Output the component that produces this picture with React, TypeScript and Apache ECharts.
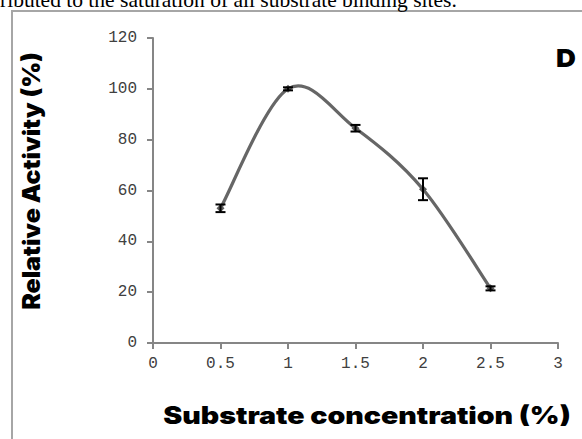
import React, { useEffect, useRef } from "react";
import * as echarts from "echarts";

const concentrations = [0.5, 1, 1.5, 2, 2.5];
const activity = [53, 100, 84.5, 60.5, 21.5];
const errors = [1.5, 0.6, 1.3, 4.3, 0.8];
const xTicks = [0, 0.5, 1, 1.5, 2, 2.5, 3];
const yTicks = [0, 20, 40, 60, 80, 100, 120];

export default function App() {
  const ref = useRef<HTMLDivElement>(null);
  useEffect(() => {
    document.body.style.margin = "0";
    const chart = echarts.init(ref.current!, undefined, { renderer: "svg" });
    const lineData = concentrations.map((c, i) => [c, activity[i]]);
    const segData = lineData.slice(0, -1);
    const errData = concentrations.map((c, i) => [c, activity[i] - errors[i], activity[i] + errors[i]]);
    const tickFont = { fontFamily: "Liberation Mono", fontSize: 16, color: "#404040" };
    const n = lineData.length;
    chart.setOption({
      animation: false,
      backgroundColor: "#fff",
      grid: { left: 153, right: 24, top: 38, bottom: 96 },
      xAxis: {
        type: "value",
        min: xTicks[0],
        max: xTicks[xTicks.length - 1],
        interval: 0.5,
        axisLine: { show: true, lineStyle: { color: "#868686", width: 2 } },
        axisTick: { show: true, length: 6, lineStyle: { color: "#868686", width: 2 } },
        axisLabel: { ...tickFont, margin: 13 },
        splitLine: { show: false },
      },
      yAxis: {
        type: "value",
        min: yTicks[0],
        max: yTicks[yTicks.length - 1],
        interval: 20,
        axisLine: { show: true, lineStyle: { color: "#868686", width: 2 } },
        axisTick: { show: true, length: 6, lineStyle: { color: "#868686", width: 2 } },
        axisLabel: { ...tickFont, margin: 16 },
        splitLine: { show: false },
      },
      series: [
        {
          type: "custom",
          data: segData,
          z: 1,
          clip: false,
          renderItem: (params: any, api: any) => {
            const i = params.dataIndex;
            const p = (k: number) => {
              const kk = Math.max(0, Math.min(n - 1, k));
              return api.coord(lineData[kk]);
            };
            const p0 = p(i - 1), p1 = p(i), p2 = p(i + 1), p3 = p(i + 2);
            const t = 1 / 6;
            return {
              type: "bezierCurve",
              shape: {
                x1: p1[0],
                y1: p1[1],
                cpx1: p1[0] + (p2[0] - p0[0]) * t,
                cpy1: p1[1] + (p2[1] - p0[1]) * t,
                cpx2: p2[0] - (p3[0] - p1[0]) * t,
                cpy2: p2[1] - (p3[1] - p1[1]) * t,
                x2: p2[0],
                y2: p2[1],
              },
              style: { stroke: "#666666", lineWidth: 3.2, fill: "none" },
            };
          },
        },
        {
          type: "line",
          data: lineData,
          symbol: "diamond",
          symbolSize: 8,
          lineStyle: { opacity: 0, width: 0 },
          itemStyle: { color: "#5a5a5a" },
          z: 2,
        },
        {
          type: "custom",
          data: errData,
          z: 3,
          renderItem: (params: any, api: any) => {
            const x = api.value(0);
            const lo = api.coord([x, api.value(1)]);
            const hi = api.coord([x, api.value(2)]);
            const w = 5;
            const style = { stroke: "#000", lineWidth: 2 };
            return {
              type: "group",
              children: [
                { type: "line", shape: { x1: lo[0], y1: lo[1], x2: hi[0], y2: hi[1] }, style },
                { type: "line", shape: { x1: lo[0] - w, y1: lo[1], x2: lo[0] + w, y2: lo[1] }, style },
                { type: "line", shape: { x1: hi[0] - w, y1: hi[1], x2: hi[0] + w, y2: hi[1] }, style },
              ],
            };
          },
        },
      ],
      graphic: [
        {
          type: "rect",
          shape: { x: 12, y: 11, width: 700, height: 600 },
          style: { fill: "none", stroke: "#a6a6a6", lineWidth: 2 },
        },
        {
          type: "text",
          x: 0,
          y: 10.5,
          style: {
            text: "ributed to the saturation of all substrate binding sites.",
            font: "21.5px 'Liberation Serif'",
            fill: "#000",
            textVerticalAlign: "bottom",
          },
        },
        {
          type: "text",
          x: 31,
          y: 181,
          rotation: Math.PI / 2,
          scaleX: 1.04,
          style: {
            text: "Relative Activity (%)",
            font: "900 24px Inter",
            fill: "#000",
            align: "center",
            verticalAlign: "middle",
          },
        },
        {
          type: "text",
          x: 367,
          y: 415,
          scaleX: 1.19,
          style: {
            text: "Substrate concentration (%)",
            font: "900 24px Inter",
            fill: "#000",
            align: "center",
            verticalAlign: "middle",
          },
        },
        {
          type: "text",
          x: 566,
          y: 58,
          scaleX: 1.1,
          style: {
            text: "D",
            font: "900 25px Inter",
            fill: "#000",
            align: "center",
            verticalAlign: "middle",
          },
        },
      ],
    });
    return () => chart.dispose();
  }, []);
  return <div ref={ref} style={{ width: 582, height: 439 }} />;
}
